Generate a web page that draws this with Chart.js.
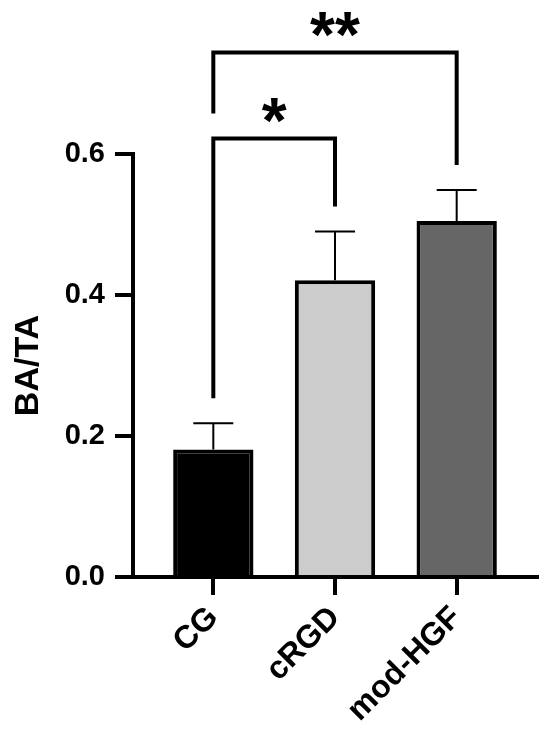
<!DOCTYPE html>
<html>
<head>
<meta charset="utf-8">
<script src="https://cdn.jsdelivr.net/npm/chart.js@4.4.1/dist/chart.umd.min.js"></script>
<style>
  html, body { margin: 0; padding: 0; background: #fff; }
  #wrap { width: 550px; height: 739px; position: relative; }
</style>
</head>
<body>
<div id="wrap"><canvas id="barChart"></canvas></div>
<script>
// groups and measured values (mean + SEM, upper bar only)
const categories = ["CG", "cRGD", "mod-HGF"];
const means = [0.181, 0.421, 0.505];
const sems = [0.037, 0.069, 0.044];
const yTicks = [0.0, 0.2, 0.4, 0.6];

// significance comparisons: pair of group indexes, label, bracket height
const compPairs = [[0, 1], [0, 2]];
const compLabels = ["*", "**"];
const compLevels = [0.622, 0.744];

const barColors = ["#000000", "#cccccc", "#666666"];
const FONT = "'Liberation Sans', Arial, sans-serif";

const sigPlugin = {
  id: "sigPlugin",
  afterDatasetsDraw(chart) {
    const ctx = chart.ctx;
    const xs = chart.scales.x, ys = chart.scales.y;
    ctx.save();
    ctx.strokeStyle = "#000";
    ctx.lineWidth = 2;
    means.forEach((m, i) => {
      const px = xs.getPixelForValue(i);
      const base = ys.getPixelForValue(m);
      const top = ys.getPixelForValue(m + sems[i]);
      ctx.beginPath();
      ctx.moveTo(px, base);
      ctx.lineTo(px, top);
      ctx.moveTo(px - 20, top);
      ctx.lineTo(px + 20, top);
      ctx.stroke();
    });
    ctx.restore();
  },
  afterDraw(chart) {
    const ctx = chart.ctx;
    const xs = chart.scales.x, ys = chart.scales.y;
    // highest pixel occupied above each group so far
    const occupied = means.map((m, i) => ys.getPixelForValue(m + sems[i]));
    const gap = 25;
    ctx.save();
    ctx.strokeStyle = "#000";
    ctx.lineWidth = 4;
    ctx.lineJoin = "miter";
    ctx.lineCap = "butt";
    compPairs.forEach((pair, k) => {
      const [a, b] = pair;
      const xa = xs.getPixelForValue(a), xb = xs.getPixelForValue(b);
      const yTop = ys.getPixelForValue(compLevels[k]);
      ctx.beginPath();
      ctx.moveTo(xa, occupied[a] - gap);
      ctx.lineTo(xa, yTop);
      ctx.lineTo(xb, yTop);
      ctx.lineTo(xb, occupied[b] - gap);
      ctx.stroke();
      for (let i = a; i <= b; i++) occupied[i] = Math.min(occupied[i], yTop);
      // stars
      ctx.fillStyle = "#000";
      ctx.font = "bold 64px " + FONT;
      ctx.textAlign = "center";
      ctx.textBaseline = "alphabetic";
      const mt = ctx.measureText(compLabels[k]);
      const cy = yTop - 28;
      ctx.fillText(compLabels[k], (xa + xb) / 2,
        cy + (mt.actualBoundingBoxAscent - mt.actualBoundingBoxDescent) / 2);
    });
    ctx.restore();
  }
};

new Chart(document.getElementById("barChart"), {
  type: "bar",
  data: {
    datasets: [{
      data: means.map((v, i) => ({ x: i, y: v })),
      backgroundColor: barColors,
      borderColor: "#000",
      borderWidth: 4,
      categoryPercentage: 1,
      barPercentage: 0.66
    }]
  },
  options: {
    responsive: true,
    maintainAspectRatio: false,
    animation: false,
    layout: { padding: { top: 154, right: 13, left: 0, bottom: 0 } },
    plugins: { legend: { display: false }, tooltip: { enabled: false } },
    scales: {
      x: {
        type: "linear",
        min: -0.66,
        max: 2.66,
        offset: false,
        afterBuildTicks: s => { s.ticks = categories.map((c, i) => ({ value: i })); },
        afterFit: s => { s.height = 162; },
        grid: { offset: false, drawOnChartArea: false, color: "#000", lineWidth: 4, tickLength: 18 },
        border: { color: "#000", width: 4 },
        ticks: {
          autoSkip: false,
          maxRotation: 45,
          minRotation: 45,
          padding: 4,
          color: "#000",
          font: { family: FONT, size: 32, weight: "bold" },
          callback: v => categories[v]
        }
      },
      y: {
        min: 0,
        max: 0.6,
        afterBuildTicks: s => { s.ticks = yTicks.map(v => ({ value: v })); },
        afterFit: s => { s.width = 133; },
        grid: { drawOnChartArea: false, color: "#000", lineWidth: 4, tickLength: 18 },
        border: { color: "#000", width: 4 },
        ticks: {
          padding: 10,
          color: "#000",
          font: { family: FONT, size: 29, weight: "bold" },
          callback: v => v.toFixed(1)
        },
        title: {
          display: true,
          text: "BA/TA",
          color: "#000",
          font: { family: FONT, size: 34, weight: "bold" },
          padding: { top: 8, bottom: 0 }
        }
      }
    }
  },
  plugins: [sigPlugin]
});
</script>
</body>
</html>
